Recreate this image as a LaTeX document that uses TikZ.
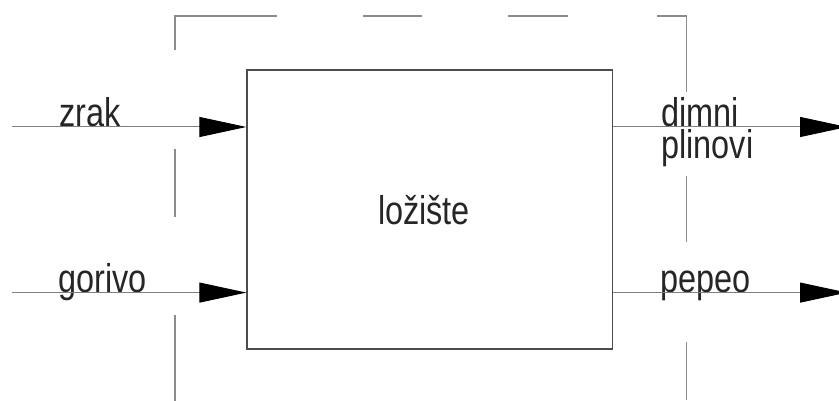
\documentclass[tikz,border=0pt]{standalone}
\usepackage{fontspec}
\setmainfont{Liberation Sans}[FakeStretch=0.81]
\usepackage{tikz}
\usetikzlibrary{arrows.meta}
\usetikzlibrary{positioning}
\tikzstyle{process} = [rectangle, minimum width=9.13cm, minimum height=6.975cm, draw=black!70, line width=0.9pt, inner sep=0cm]
\tikzstyle{arrow} = [draw=black!50, line width=0.7pt, -{Triangle[length=1.175cm, width=0.5cm, color=black]}]
\tikzstyle{lbl} = [anchor=base west, inner sep=0cm, text=black!85, align=left, font=\fontsize{28.5}{22.8}\selectfont]
\tikzstyle{boundary} = [draw=black!45, line width=0.8pt, dash pattern=on 2.15cm off 2.45cm on 1.7cm off 2.475cm on 3.4cm off 2.15cm on 1.475cm off 2.15cm on 1.5cm off 2.225cm on 2.65cm off 2.1cm on 1.65cm off 2.5cm on 1.45cm off 1cm]

\begin{document}
\begin{tikzpicture}
                        \useasboundingbox (0,0) rectangle (20.975,10.025);
                        \clip (0,0) rectangle (20.975,10.025);
                        % control volume boundary
                        \draw [boundary] (4.375,0) -- (4.375,9.625) -- (17.1625,9.625) -- (17.1625,0);
                        \node (LO) [process] at (10.74,4.79) {};
                        \node (LOtxt) [lbl, anchor=base] at (10.6,4.4) {ložište};
                        \coordinate (Zin) at (0.3,6.85);
                        \coordinate (Gin) at (0.3,2.71);
                        \coordinate (Dout) at (21.175,6.85);
                        \coordinate (Pout) at (21.175,2.71);
                        \node (zrak) [lbl] at (1.475,6.85) {zrak};
                        \node (gorivo) [lbl] at (1.45,2.71) {gorivo};
                        \node (dimni) [lbl] at (16.525,6.05) {dimni\\plinovi};
                        \node (pepeo) [lbl] at (16.5,2.71) {pepeo};
                        \draw [arrow] (Zin) -- (Zin -| LO.west);
                        \draw [arrow] (Gin) -- (Gin -| LO.west);
                        \draw [arrow] (Dout -| LO.east) -- (Dout);
                        \draw [arrow] (Pout -| LO.east) -- (Pout);
                    \end{tikzpicture}
\end{document}
